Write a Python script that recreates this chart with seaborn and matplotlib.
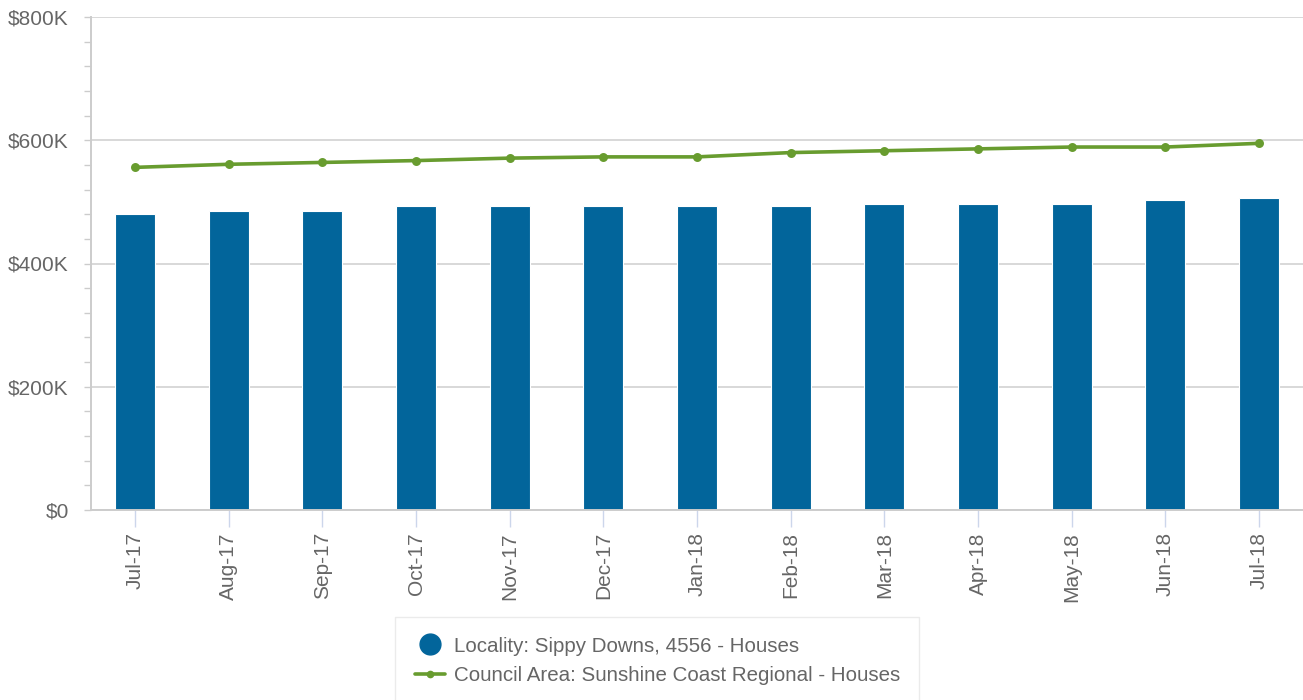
import matplotlib
matplotlib.use("Agg")
import matplotlib.pyplot as plt
from matplotlib.lines import Line2D
from matplotlib.ticker import MultipleLocator, FuncFormatter
import seaborn as sns
import pandas as pd

months = ["Jul-17", "Aug-17", "Sep-17", "Oct-17", "Nov-17", "Dec-17", "Jan-18",
          "Feb-18", "Mar-18", "Apr-18", "May-18", "Jun-18", "Jul-18"]
locality_median = [480000, 486000, 486000, 493000, 493000, 493000, 493000,
                   493000, 496000, 496000, 496000, 503000, 506000]
council_median = [556000, 561000, 564000, 567000, 571000, 573000, 573000,
                  580000, 583000, 586000, 589000, 589000, 595000]

locality_label = "Locality: Sippy Downs, 4556 - Houses"
council_label = "Council Area: Sunshine Coast Regional - Houses"

BAR_COLOR = "#02659b"
LINE_COLOR = "#689c2f"
TEXT_COLOR = "#666666"
AXIS_COLOR = "#cccccc"
GRID_COLOR = "#d8d8d8"

sns.set_theme(style="white")
plt.rcParams["font.family"] = ["Liberation Sans", "DejaVu Sans"]

df = pd.DataFrame({"month": months,
                   "locality": locality_median,
                   "council": council_median})

W, H = 1303, 700
fig = plt.figure(figsize=(W / 100, H / 100), dpi=100)
ax = fig.add_axes([91 / W, 1 - 510 / H, (W - 91) / W, 493 / H])

sns.barplot(data=df, x="month", y="locality", order=months, color=BAR_COLOR,
            saturation=1, width=0.43, edgecolor="#ffffff", linewidth=0.8,
            ax=ax, zorder=2)
sns.pointplot(data=df, x="month", y="council", order=months, color=LINE_COLOR,
              markers="o", markersize=4.5, linewidth=2.6, errorbar=None,
              ax=ax, zorder=3)

ax.set_xlim(-0.47, 12.47)
ax.set_ylim(0, 800000)
ax.set_xlabel("")
ax.set_ylabel("")

ax.yaxis.set_major_locator(MultipleLocator(200000))
ax.yaxis.set_minor_locator(MultipleLocator(40000))
ax.yaxis.set_major_formatter(
    FuncFormatter(lambda v, _: "$0" if v == 0 else f"${int(v / 1000)}K"))
ax.grid(axis="y", which="major", color=GRID_COLOR, linewidth=1.4, zorder=0)
ax.set_axisbelow(True)

for side in ("top", "right"):
    ax.spines[side].set_visible(False)
for side in ("left", "bottom"):
    ax.spines[side].set_color(AXIS_COLOR)
    ax.spines[side].set_linewidth(1.4)

ax.tick_params(axis="y", which="major", length=5, width=1, color=AXIS_COLOR,
               pad=11, labelsize=15, labelcolor=TEXT_COLOR, left=True)
ax.tick_params(axis="y", which="minor", length=5, width=1, color=AXIS_COLOR,
               left=True)
ax.tick_params(axis="x", length=12, width=1, color="#ccd6eb", pad=4,
               labelsize=15, labelcolor=TEXT_COLOR, labelrotation=90,
               bottom=True)

handles = [
    Line2D([], [], linestyle="none", marker="o", markersize=15,
           markerfacecolor=BAR_COLOR, markeredgecolor=BAR_COLOR),
    Line2D([], [], color=LINE_COLOR, linewidth=2.6, marker="o", markersize=4.5),
]
leg = fig.legend(handles, [locality_label, council_label],
                 loc="upper left", bbox_to_anchor=(395 / W, 1 - 617 / H),
                 frameon=True, fancybox=False, fontsize=14.8,
                 labelcolor=TEXT_COLOR, handlelength=1.5, handletextpad=0.4,
                 labelspacing=0.5, borderpad=0.95, borderaxespad=0)
leg.get_frame().set_edgecolor("#e6e6e6")
leg.get_frame().set_linewidth(1.0)

fig.savefig("out.png", dpi=100, facecolor="white")
